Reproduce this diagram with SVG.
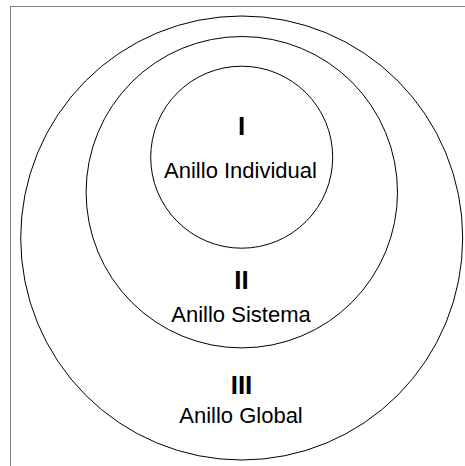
<svg xmlns="http://www.w3.org/2000/svg" width="465" height="466" viewBox="0 0 465 466">
<style>
.ring{fill:none;stroke:#000;stroke-width:1}
.lbl{font-family:"Liberation Sans",Arial,sans-serif;font-size:22px;fill:#000;text-anchor:middle}
.num{font-family:"Liberation Sans",Arial,sans-serif;font-size:26px;font-weight:bold;fill:#000;text-anchor:middle}
</style>
<rect x="0" y="0" width="465" height="466" fill="#fff"/>
<rect x="10.5" y="6.5" width="470" height="470" fill="none" stroke="#808080" stroke-width="1"/>
<g id="ring3">
<ellipse class="ring" cx="241.7" cy="238" rx="221" ry="222"/>
<text class="num" x="241.5" y="393.5">III</text>
<text class="lbl" x="241" y="422.5">Anillo Global</text>
</g>
<g id="ring2">
<circle class="ring" cx="241.8" cy="192.2" r="155.7"/>
<text class="num" x="241.5" y="288.5">II</text>
<text class="lbl" x="241" y="321.5">Anillo Sistema</text>
</g>
<g id="ring1">
<circle class="ring" cx="241.7" cy="157.2" r="91" stroke-width="1.6"/>
<text class="num" x="241.5" y="135">I</text>
<text class="lbl" x="240.5" y="178">Anillo Individual</text>
</g>
<g id="connectors"/>
</svg>
